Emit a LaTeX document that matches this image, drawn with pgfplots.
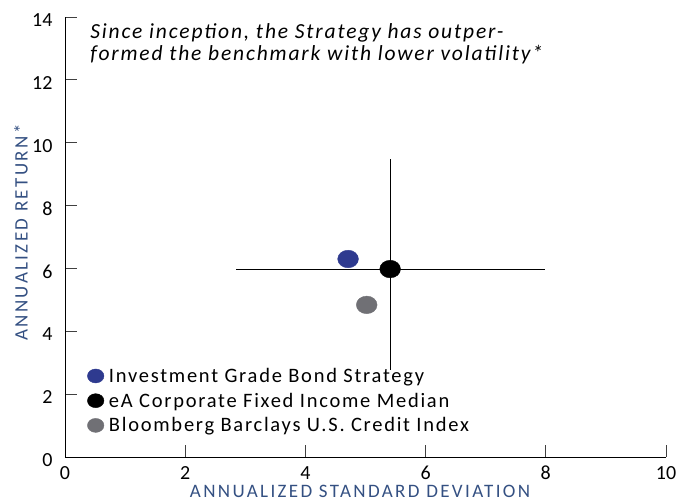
\documentclass[border=0pt]{standalone}
\usepackage{pgfplots}
\pgfplotsset{compat=1.18}
\usepackage{fontspec}
\setmainfont{Carlito}
\newfontfamily\lblfont[LetterSpace=12.5]{Carlito}
\newfontfamily\legfont[LetterSpace=8.5]{Carlito}
\newfontfamily\titfont[LetterSpace=8.5]{Carlito}
\definecolor{ptblue}{RGB}{46,58,143}
\definecolor{ptgray}{RGB}{112,112,117}
\definecolor{lblblue}{RGB}{52,80,130}
\begin{document}
\begin{tikzpicture}
\path[use as bounding box] (-65bp,-44bp) rectangle (616bp,457bp);
\begin{axis}[
  scale only axis,
  width=601bp, height=440bp,
  xmin=0, xmax=10, ymin=0, ymax=14,
  axis lines=left,
  axis line style={-, line width=0.9pt},
  xtick={0,2,...,10}, ytick={0,2,...,14},
  tick style={line width=0.9pt, color=black!75},
  xtick align=inside, ytick align=inside,
  major tick length=12bp,
  /pgf/number format/assume math mode=true,
  tick label style={font=\fontsize{20bp}{22bp}\selectfont},
  xticklabel style={inner sep=0pt, text depth=0pt, yshift=-9bp},
  yticklabel style={xshift=-9bp, yshift=-3bp},
  xlabel={ANNUALIZED STANDARD DEVIATION},
  ylabel={ANNUALIZED RETURN*},
  label style={font=\fontsize{19bp}{20bp}\lblfont, text=lblblue, inner sep=0pt, text depth=0pt},
  xlabel style={at={(axis description cs:0.491,0)}, anchor=center, yshift=-34bp},
  ylabel style={at={(axis description cs:0,0.51)}, anchor=center, yshift=44bp},
  legend style={draw=none, fill=none, at={(axis description cs:0.037,0.207)}, anchor=north west,
    font=\fontsize{20.5bp}{22bp}\legfont, row sep=5bp, column sep=3bp, inner sep=0pt},
  legend cell align=left,
  legend image code/.code={\draw[#1, mark size=7bp] plot coordinates {(0.25cm,0cm)};},
  clip=false,
]
\addplot[black, line width=0.8pt, forget plot] coordinates {(2.85,5.98) (7.99,5.98)};
\addplot[black, line width=0.8pt, forget plot] coordinates {(5.41,2.77) (5.41,9.48)};
\addplot[only marks, mark=*, mark size=8.8bp, mark options={xscale=1.18, draw=ptblue, fill=ptblue}] coordinates {(4.71,6.30)};
\addlegendentry{Investment Grade Bond Strategy}
\addplot[only marks, mark=*, mark size=8.8bp, mark options={xscale=1.18, draw=black, fill=black}] coordinates {(5.41,5.98)};
\addlegendentry{eA Corporate Fixed Income Median}
\addplot[only marks, mark=*, mark size=8.8bp, mark options={xscale=1.18, draw=ptgray, fill=ptgray}] coordinates {(5.02,4.84)};
\addlegendentry{Bloomberg Barclays U.S. Credit Index}
\node[anchor=north west, align=left, font=\fontsize{21.5bp}{21.5bp}\titfont\itshape, inner sep=0pt]
  at (axis description cs:0.042,0.985) {Since inception, the Strategy has outper-\\formed the benchmark with lower volatility*};
\end{axis}
\end{tikzpicture}
\end{document}
